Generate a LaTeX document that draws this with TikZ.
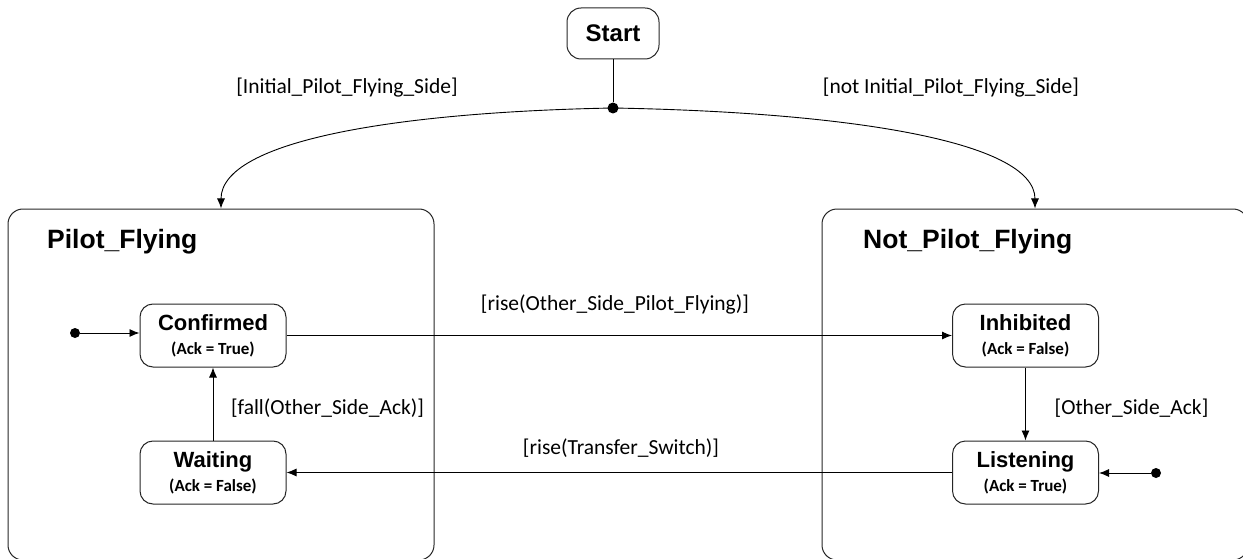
\documentclass[tikz,border=0pt]{standalone}
\usepackage{fontspec}
\setmainfont{Carlito}
\newfontfamily\arialfont{Liberation Sans}
\usetikzlibrary{arrows.meta}
\newcommand\stname[1]{{\arialfont\bfseries\fontsize{22}{24}\selectfont #1}}
\newcommand\stsub[1]{{\bfseries\fontsize{17}{24}\selectfont #1}}
\begin{document}
\begin{tikzpicture}[x=1pt,y=-1pt,
  arr/.style={-{Latex[length=10pt,width=8pt]}, line width=0.9pt},
  plain/.style={line width=0.9pt},
  statebox/.style={draw=black!85, line width=1pt, rounded corners=13pt, minimum width=146pt, minimum height=63pt, inner sep=0pt, align=center, fill=white, font=\fontsize{22}{24}\selectfont},
  cluster/.style={draw=black!85, line width=1pt, rounded corners=15pt, minimum width=426pt, minimum height=351pt, inner sep=0pt},
  guard/.style={font=\fontsize{21.5}{24}\selectfont, inner sep=0pt},
  title/.style={font=\arialfont\bfseries\fontsize{26.5}{30}\selectfont, anchor=base west, inner sep=0pt},
  dot/.style={circle, fill=black, inner sep=0pt, minimum size=10pt}]
\useasboundingbox (0,0) rectangle (1243,559);
\clip (0,0) rectangle (1243,559);
% clusters
\node[cluster] (pf) at (221,384.5) {};
\node[cluster] (npf) at (1035,384.5) {};
\node[title] (pft) at (47,248) {Pilot\_Flying};
\node[title] (npft) at (863,248) {Not\_Pilot\_Flying};
% start
\node[draw=black!85, line width=1pt, rounded corners=14pt, minimum width=92pt, minimum height=51pt, inner sep=0pt, font=\arialfont\bfseries\fontsize{24}{26}\selectfont] (start) at (613,33.5) {Start};
\node[dot, minimum size=11pt] (junc) at (613,108) {};
\draw[plain] (start) -- (junc);
\draw[arr] (junc.center) .. controls (400,112) and (221,140) .. (pf.north);
\draw[arr] (junc.center) .. controls (841,112) and (1035,140) .. (npf.north);
\node[guard] (g1) at (347,88) {[Initial\_Pilot\_Flying\_Side]};
\node[guard] (g2) at (951,88) {[not Initial\_Pilot\_Flying\_Side]};
% states
\node[statebox] (conf) at (213,335.5) {\stname{Confirmed}\\\stsub{(Ack = True)}};
\node[statebox] (wait) at (213,472.5) {\stname{Waiting}\\\stsub{(Ack = False)}};
\node[statebox] (inhib) at (1025.5,335.5) {\stname{Inhibited}\\\stsub{(Ack = False)}};
\node[statebox] (listen) at (1025.5,472.5) {\stname{Listening}\\\stsub{(Ack = True)}};
% initial dots
\node[dot] (initL) at (75,333) {};
\draw[arr] (initL) -- (initL -| conf.west);
\node[dot] (initR) at (1156,473) {};
\draw[arr] (initR) -- (initR -| listen.east);
% transitions
\draw[arr] (conf) -- (inhib);
\draw[arr] (listen) -- (wait);
\draw[arr] (wait) -- (conf);
\draw[arr] (inhib) -- (listen);
\node[guard] (g3) at (615,304) {[rise(Other\_Side\_Pilot\_Flying)]};
\node[guard] (g4) at (621,448) {[rise(Transfer\_Switch)]};
\node[guard] (g5) at (327.5,408) {[fall(Other\_Side\_Ack)]};
\node[guard] (g6) at (1131.5,408) {[Other\_Side\_Ack]};
\end{tikzpicture}
\end{document}
